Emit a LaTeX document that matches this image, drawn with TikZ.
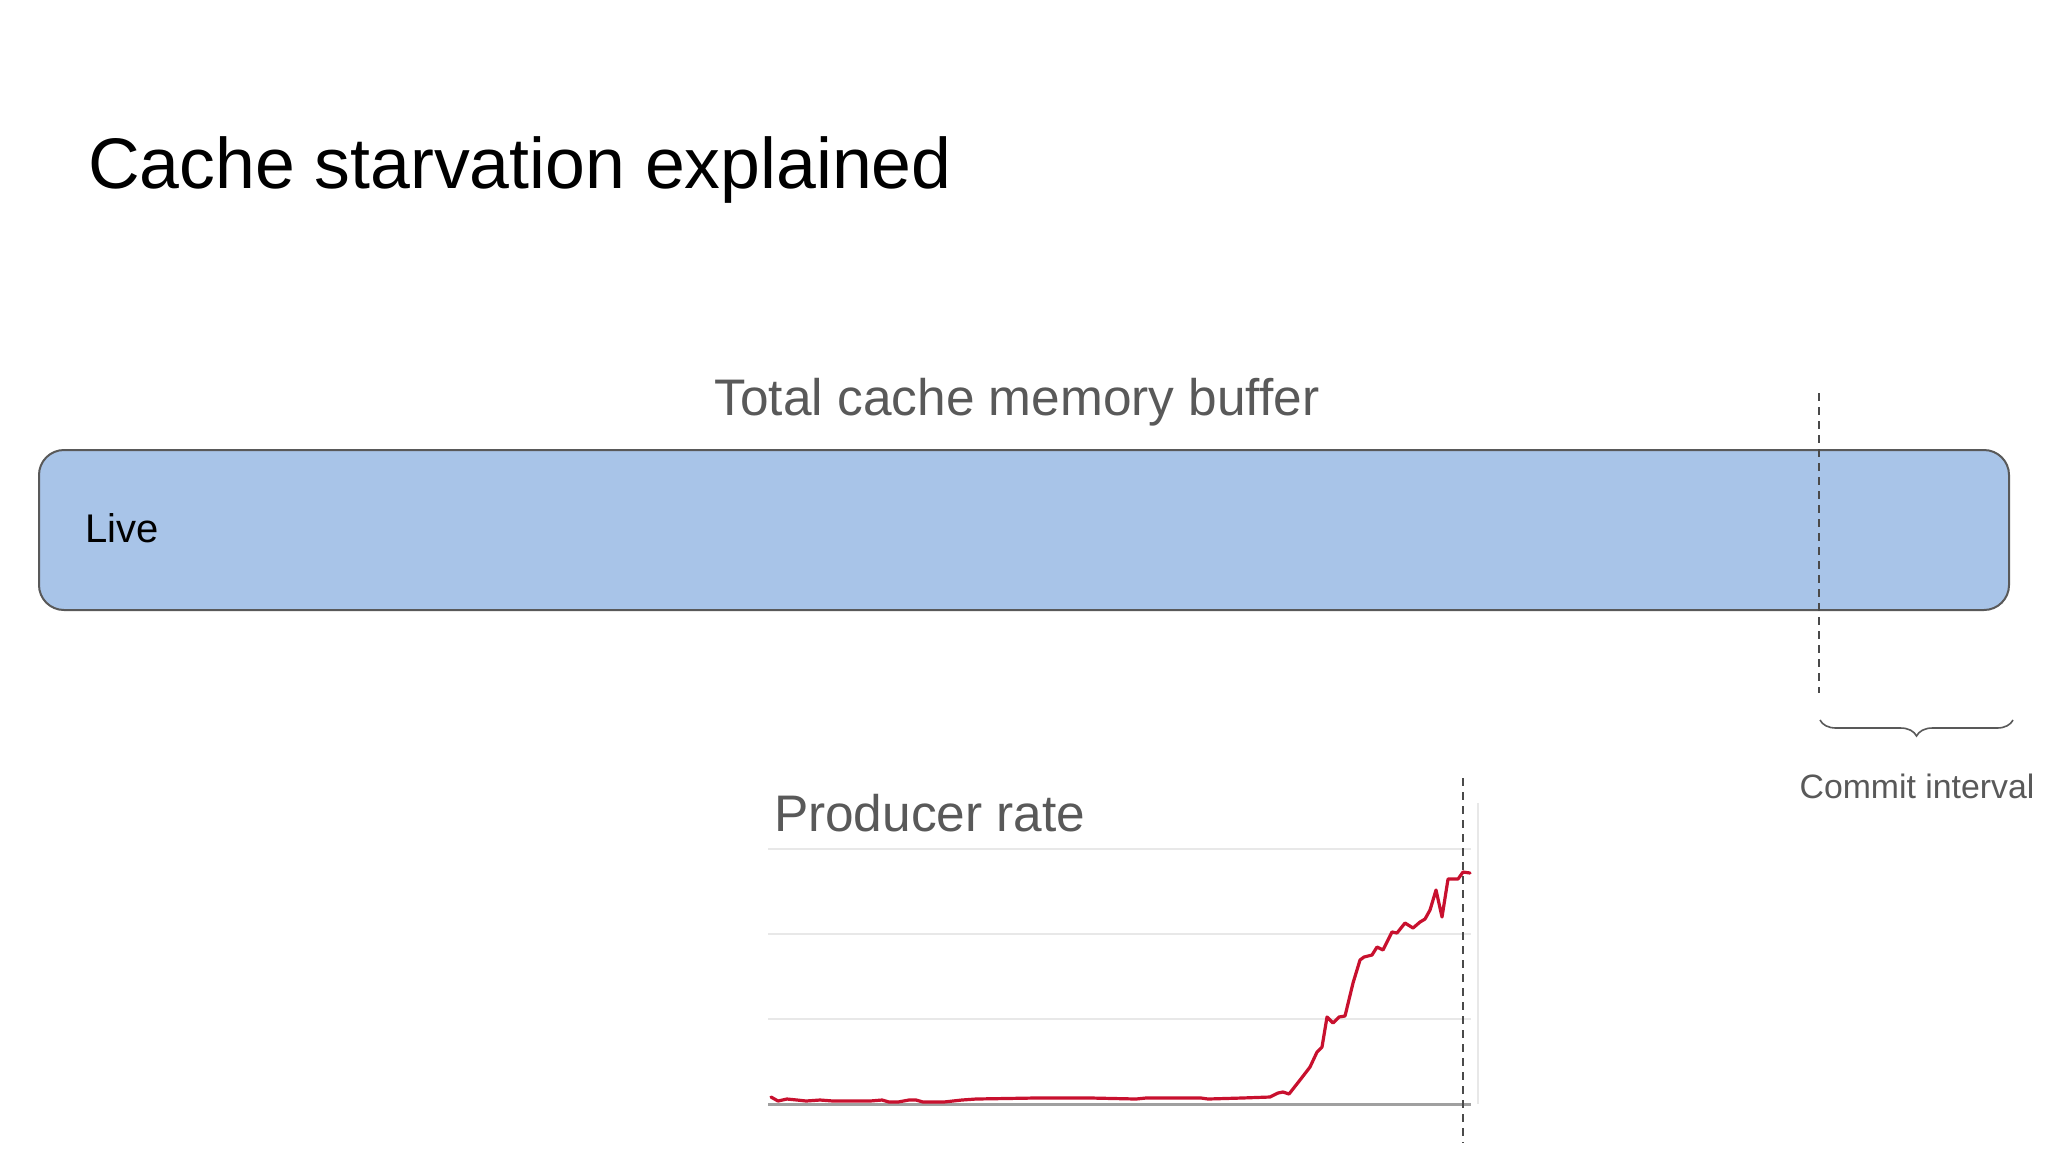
\documentclass[tikz,border=0pt]{standalone}
\usepackage{fontspec}
\setmainfont{Liberation Sans}
\usetikzlibrary{decorations.pathreplacing}
\definecolor{boxfill}{HTML}{A8C4E8}
\definecolor{boxline}{HTML}{595959}
\definecolor{labelgray}{HTML}{595959}
\definecolor{gridgray}{HTML}{E8E8E8}
\definecolor{axisgray}{HTML}{A0A0A0}
\definecolor{guide}{HTML}{4A4A4A}
\definecolor{series}{HTML}{C8102E}
\tikzset{
  txt/.style={inner sep=0pt, outer sep=0pt},
  guideline/.style={draw=guide, line width=0.8pt, dash pattern=on 4pt off 3pt},
  gridline/.style={draw=gridgray, line width=0.6pt},
  bufferbox/.style={draw=boxline, fill=boxfill, line width=1pt, rounded corners=12.5pt},
}
\begin{document}
\begin{tikzpicture}[x=0.5pt,y=-0.5pt]
\useasboundingbox[fill=white] (0,0) rectangle (2048,1152);

% title
\node[txt, anchor=base west, font=\fontsize{35.8}{42}\selectfont] (title) at (88,188) {Cache starvation explained};

% buffer label
\node[txt, anchor=base, text=labelgray, font=\fontsize{25.7}{30}\selectfont] (buflabel) at (1017,415) {Total cache memory buffer};

% buffer bar
\draw[bufferbox] (39,450) rectangle (2009,610);
\node[txt, anchor=base west, font=\fontsize{20}{24}\selectfont] (live) at (85,542) {Live};

% commit interval guide
\coordinate (cTop) at (1819,393);
\coordinate (cBot) at (1819,693);
\draw[guideline] (cTop) -- (cBot);
\coordinate (bL) at (1820,720);
\coordinate (bR) at (2013,720);
\draw[labelgray, line width=0.8pt, decorate, decoration={brace, mirror, amplitude=8pt}] (bL) -- (bR);
\node[txt, anchor=base, text=labelgray, font=\fontsize{16.9}{20}\selectfont] (commit) at (1917,798) {Commit interval};

% chart
\node[txt, anchor=base west, text=labelgray, font=\fontsize{25.7}{30}\selectfont] (prodlabel) at (774,831) {Producer rate};
\draw[gridline] (768,849) -- (1471,849);
\draw[gridline] (768,934) -- (1471,934);
\draw[gridline] (768,1019) -- (1471,1019);
\draw[draw=gridgray, line width=0.8pt] (1478,803) -- (1478,1104);
\draw[draw=axisgray, line width=1.5pt] (768,1104) -- (1471,1104);

\draw[series, line width=1.6pt, line join=round, line cap=round]
  (771,1097) -- (778,1101) -- (787,1099) -- (797,1100) -- (806,1101) -- (820,1100)
  -- (833,1101) -- (852,1101) -- (870,1101) -- (882,1100) -- (889,1102) -- (898,1102)
  -- (909,1100) -- (916,1100) -- (923,1102) -- (944,1102) -- (962,1100) -- (976,1099)
  -- (1035,1098) -- (1091,1098) -- (1136,1099) -- (1146,1098) -- (1201,1098) -- (1208,1099)
  -- (1242,1098) -- (1270,1097) -- (1278,1093) -- (1283,1092) -- (1289,1094) -- (1300,1080)
  -- (1310,1067) -- (1317,1052) -- (1322,1047) -- (1327,1017) -- (1333,1023) -- (1339,1017)
  -- (1345,1016) -- (1353,983) -- (1360,960) -- (1364,957) -- (1372,955) -- (1377,947)
  -- (1383,950) -- (1392,932) -- (1397,933) -- (1405,923) -- (1413,928) -- (1420,922)
  -- (1425,919) -- (1430,910) -- (1436,890) -- (1442,917) -- (1448,879) -- (1458,879)
  -- (1463,872) -- (1470,873);

\coordinate (pTop) at (1463,778);
\coordinate (pBot) at (1463,1143);
\draw[guideline] (pTop) -- (pBot);
\end{tikzpicture}
\end{document}
